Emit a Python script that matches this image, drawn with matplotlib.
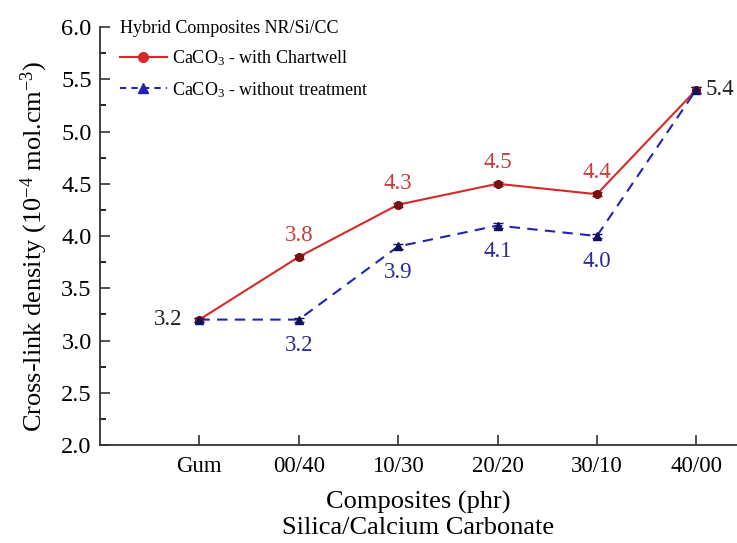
import matplotlib.pyplot as plt
from matplotlib.lines import Line2D
from matplotlib.ticker import MultipleLocator

plt.rcParams['font.family'] = ['Liberation Serif', 'DejaVu Serif']
plt.rcParams['mathtext.fontset'] = 'custom'
plt.rcParams['mathtext.rm'] = 'Liberation Serif'
plt.rcParams['mathtext.it'] = 'Liberation Serif:italic'

# composites (silica/calcium carbonate, phr)
composites = ['Gum', '00/40', '10/30', '20/20', '30/10', '40/00']
with_chartwell = [3.2, 3.8, 4.3, 4.5, 4.4, 5.4]
without_treatment = [3.2, 3.2, 3.9, 4.1, 4.0, 5.4]
err_red = [0.02, 0.02, 0.02, 0.02, 0.02, 0.03]
err_blue = [0.02, 0.02, 0.02, 0.02, 0.02, 0.03]

red = '#d42a2a'
blue = '#2222b4'
xs = list(range(1, len(composites) + 1))

fig = plt.figure(figsize=(7.37, 5.43), dpi=100)
ax = fig.add_axes([0.1357, 0.1805, 0.8643, 0.7697])

ax.plot(xs, with_chartwell, color=red, lw=1.5, zorder=2)
ax.plot(xs, without_treatment, color=blue, lw=1.5, ls=(0, (5, 3.5)), zorder=2)
ax.errorbar(xs, with_chartwell, yerr=err_red, fmt='o', ms=5.5, color='#7a1010',
            ecolor='#7a1010', elinewidth=1, capsize=3.5, zorder=3)
ax.errorbar(xs, without_treatment, yerr=err_blue, fmt='^', ms=5.5, color='#101060',
            ecolor='#101060', elinewidth=1, capsize=3.5, zorder=3)

# value labels
for i, (x, v) in enumerate(zip(xs, with_chartwell)):
    if i in (0, len(xs) - 1):
        continue
    ax.annotate(f'{v:.1f}', (x, v), xytext=(0, 8), textcoords='offset points',
                ha='center', va='bottom', color='#c83c3c', fontsize=16.5)
for i, (x, v) in enumerate(zip(xs, without_treatment)):
    if i in (0, len(xs) - 1):
        continue
    ax.annotate(f'{v:.1f}', (x, v), xytext=(0, -11), textcoords='offset points',
                ha='center', va='top', color='#2a2a9a', fontsize=16.5)
ax.annotate(f'{with_chartwell[0]:.1f}', (xs[0], with_chartwell[0]), xytext=(-12, 0),
            textcoords='offset points', ha='right', va='center', color='#222222', fontsize=16.5)
ax.annotate(f'{with_chartwell[-1]:.1f}', (xs[-1], with_chartwell[-1]), xytext=(7, 0),
            textcoords='offset points', ha='left', va='center', color='#222222', fontsize=16.5)

ax.set_xlim(0, 6.41)
ax.set_ylim(2.0, 6.0)
ax.set_xticks(xs)
ax.set_xticklabels(composites)
ax.yaxis.set_major_locator(MultipleLocator(0.5))
ax.yaxis.set_minor_locator(MultipleLocator(0.25))
ax.yaxis.set_major_formatter(plt.FormatStrFormatter('%.1f'))
ax.tick_params(axis='both', direction='in', color='#333333', width=1.2)
ax.tick_params(axis='y', which='major', length=7, pad=6, labelsize=17.5)
ax.tick_params(axis='y', which='minor', length=4, direction='in', width=1.2)
ax.tick_params(axis='x', length=7, pad=8, labelsize=16.5)

for side in ('top', 'right'):
    ax.spines[side].set_visible(False)
for side in ('left', 'bottom'):
    ax.spines[side].set_linewidth(1.3)
    ax.spines[side].set_color('#333333')

ax.set_ylabel('Cross-link density (10$^{-4}$ mol.cm$^{-3}$)', fontsize=19)
ax.yaxis.set_label_coords(-0.0785, 0.476)
ax.set_xlabel('Composites (phr)\nSilica/Calcium Carbonate', fontsize=19,
              labelpad=10, linespacing=1.2)

handles = [Line2D([], [], color=red, marker='o', ms=7, lw=1.5),
           Line2D([], [], color=blue, marker='^', ms=7, lw=1.5, ls=(0, (3, 2.5)))]
leg = ax.legend(handles, ['CaCO$_3$ - with Chartwell', 'CaCO$_3$ - without treatment'],
                title='Hybrid Composites NR/Si/CC', loc='upper left',
                bbox_to_anchor=(0.02, 1.035), frameon=False, fontsize=13,
                title_fontsize=13, handlelength=2.6, handletextpad=0.3,
                labelspacing=0.65, borderaxespad=0.0)
leg._legend_box.align = 'left'

fig.savefig('out.png', dpi=100)
